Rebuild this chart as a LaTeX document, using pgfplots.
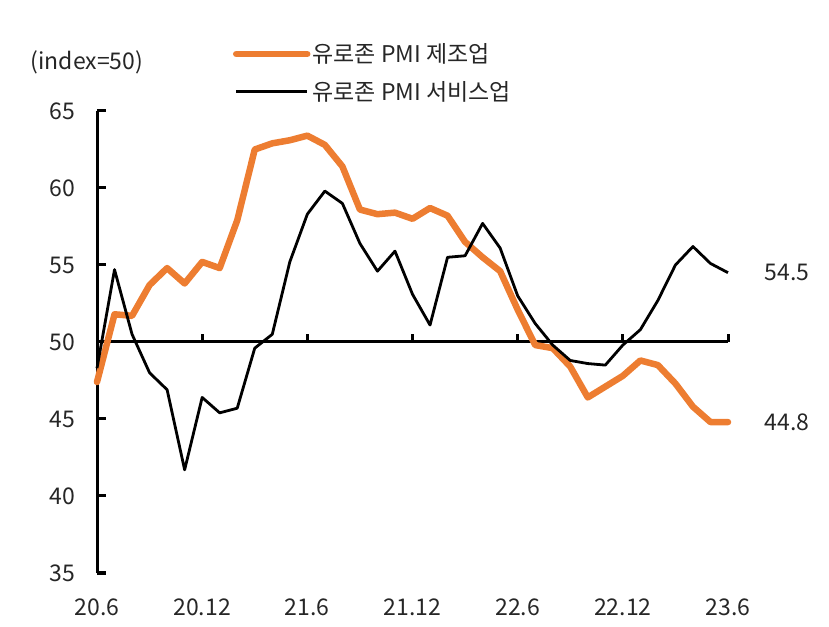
\documentclass[border=0pt]{standalone}
\usepackage{fontspec}
\usepackage{pgfplots}
\pgfplotsset{compat=1.18}
\setmainfont{Noto Sans CJK KR}
\definecolor{mfg}{RGB}{237,125,49}
\definecolor{txt}{RGB}{38,38,38}

\pgfplotstableread{
x mfg svc
0 47.4 48.3
1 51.8 54.7
2 51.7 50.5
3 53.7 48.0
4 54.8 46.9
5 53.8 41.7
6 55.2 46.4
7 54.8 45.4
8 57.9 45.7
9 62.5 49.6
10 62.9 50.5
11 63.1 55.2
12 63.4 58.3
13 62.8 59.8
14 61.4 59.0
15 58.6 56.4
16 58.3 54.6
17 58.4 55.9
18 58.0 53.1
19 58.7 51.1
20 58.2 55.5
21 56.5 55.6
22 55.5 57.7
23 54.6 56.1
24 52.1 53.0
25 49.8 51.2
26 49.6 49.8
27 48.4 48.8
28 46.4 48.6
29 47.1 48.5
30 47.8 49.8
31 48.8 50.8
32 48.5 52.7
33 47.3 55.0
34 45.8 56.2
35 44.8 55.1
36 44.8 54.5
}\pmidata

\begin{document}
\begin{tikzpicture}[font=\fontsize{23bp}{27bp}\selectfont]
\path[use as bounding box] (0,0) rectangle (829bp,627bp);
% reference line at 50 with upward ticks
\begin{axis}[
  at={(97bp,285bp)}, anchor=south west,
  scale only axis, width=631bp, height=20bp,
  xmin=0, xmax=36, ymin=0, ymax=1,
  axis x line*=bottom, axis y line=none,
  xtick={6,12,...,36}, xticklabels={},
  tick align=inside, major tick length=8bp,
  x axis line style={line width=3bp, black},
  xtick style={line width=3bp, black},
]
\end{axis}
\begin{axis}[
  at={(97bp,54bp)}, anchor=south west,
  scale only axis, width=631bp, height=462bp,
  xmin=0, xmax=36, ymin=35, ymax=65,
  clip=false,
  axis y line*=left, axis x line*=bottom,
  x axis line style={draw=none},
  y axis line style={line width=3bp, black},
  ytick={35,40,...,65},
  ytick style={line width=3bp, black},
  major tick length=9bp, tick align=inside,
  xtick={0,6,...,36},
  xticklabels={20.6,20.12,21.6,21.12,22.6,22.12,23.6},
  xtick style={draw=none},
  /pgf/number format/assume math mode=true,
  every tick label/.append style={inner sep=0pt, outer sep=0pt, text=txt},
  yticklabel style={anchor=east, xshift=-22bp},
  xticklabel style={anchor=base, yshift=-42bp},
  legend style={at={(0.2155,1.150)}, anchor=north west, draw=none, fill=none,
    inner sep=0pt, outer sep=0pt, row sep=13bp, legend cell align=left,
    nodes={inner sep=2bp, text=txt}},
  legend image code/.code={\draw[#1] (0bp,0bp) -- (71bp,0bp);},
]
\addplot[color=mfg, line width=6.5bp, line join=round, line cap=round] table[x=x, y=mfg] {\pmidata};
\addlegendentry{유로존 PMI 제조업}
\addplot[color=black, line width=2.8bp, line join=round] table[x=x, y=svc] {\pmidata};
\addlegendentry{유로존 PMI 서비스업}
\node[anchor=west, text=txt, xshift=33bp] at (axis cs:36,54.5) {54.5};
\node[anchor=west, text=txt, xshift=33bp] at (axis cs:36,44.8) {44.8};
\end{axis}
\node[text=txt] at (87bp,565bp) {(index=50)};
\end{tikzpicture}
\end{document}
